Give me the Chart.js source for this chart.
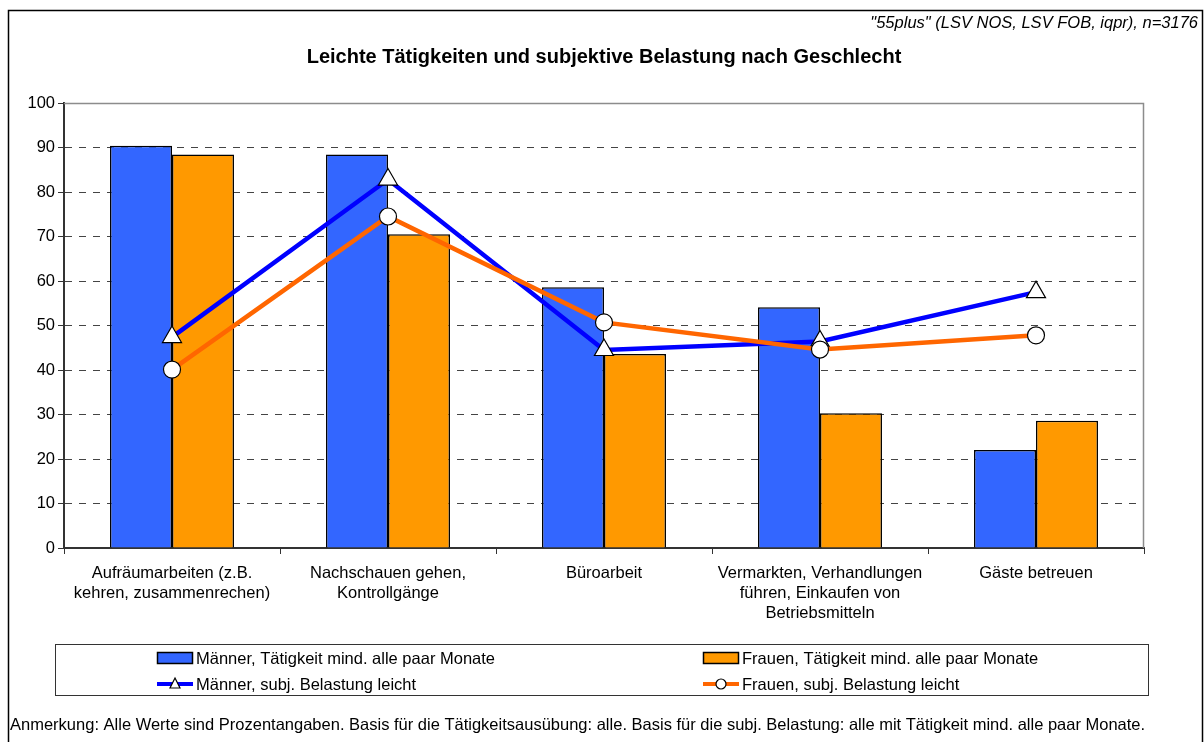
<!DOCTYPE html>
<html>
<head>
<meta charset="utf-8">
<script src="https://cdn.jsdelivr.net/npm/chart.js@4.4.1/dist/chart.umd.min.js"></script>
<style>
html, body { margin: 0; padding: 0; background: #fff; }
#wrap { width: 1204px; height: 742px; position: relative; }
</style>
</head>
<body>
<div id="wrap"><canvas id="chart"></canvas></div>
<script>
var categories = [
	['Aufräumarbeiten (z.B.', 'kehren, zusammenrechen)'],
	['Nachschauen gehen,', 'Kontrollgänge'],
	['Büroarbeit'],
	['Vermarkten, Verhandlungen', 'führen, Einkaufen von', 'Betriebsmitteln'],
	['Gäste betreuen']
];
var maennerTaetigkeit = [90.4, 88.4, 58.6, 54.1, 22.0];
var frauenTaetigkeit = [88.4, 70.5, 43.6, 30.3, 28.6];
var maennerBelastung = [47.4, 82.8, 44.5, 46.4, 57.5];
var frauenBelastung = [40.1, 74.5, 50.7, 44.6, 47.8];
var seriesNames = [
	'Männer, Tätigkeit mind. alle paar Monate',
	'Frauen, Tätigkeit mind. alle paar Monate',
	'Männer, subj. Belastung leicht',
	'Frauen, subj. Belastung leicht'
];
var yTicks = [0, 10, 20, 30, 40, 50, 60, 70, 80, 90, 100];

var FONT = '"Liberation Sans", Arial, sans-serif';

// frame, source, title, plot border, legend and footnote
var decorations = {
	id: 'decorations',
	beforeDraw: function(chart) {
		var c = chart.ctx;
		c.save();
		c.fillStyle = '#fff';
		c.fillRect(0, 0, chart.width, chart.height);
		c.restore();
	},
	afterDraw: function(chart) {
		var c = chart.ctx;
		var a = chart.chartArea;
		c.save();
		// outer frame
		c.strokeStyle = '#000';
		c.lineWidth = 1.5;
		c.strokeRect(8.5, 10.5, 1194, 760);

		// plot area border top/right
		c.strokeStyle = '#8c8c8c';
		c.lineWidth = 1.5;
		c.beginPath();
		c.moveTo(a.left, a.top + 0.5);
		c.lineTo(a.right - 0.5, a.top + 0.5);
		c.lineTo(a.right - 0.5, a.bottom);
		c.stroke();

		// source note
		c.fillStyle = '#000';
		c.font = 'italic 16.5px ' + FONT;
		c.textAlign = 'right';
		c.textBaseline = 'middle';
		c.fillText('"55plus" (LSV NOS, LSV FOB, iqpr), n=3176', 1198, 23);

		// title
		c.font = 'bold 20px ' + FONT;
		c.textAlign = 'center';
		c.fillText('Leichte Tätigkeiten und subjektive Belastung nach Geschlecht', 604, 57);

		// legend box
		c.strokeStyle = '#333';
		c.lineWidth = 1;
		c.strokeRect(55.5, 644.5, 1093, 51);
		var ds = chart.data.datasets;
		var cols = [157, 703];
		var rows = [658, 684];
		c.font = '16.5px ' + FONT;
		c.textAlign = 'left';
		for (var i = 0; i < 4; i++) {
			var x = cols[i % 2], y = rows[Math.floor(i / 2)];
			var d = ds[i];
			if (d.type === 'bar') {
				c.fillStyle = d.backgroundColor;
				c.fillRect(x, y - 6, 36, 12);
				c.strokeStyle = '#000';
				c.lineWidth = 1.5;
				c.strokeRect(x + 0.5, y - 5.5, 35, 11);
			} else {
				c.strokeStyle = d.borderColor;
				c.lineWidth = 4;
				c.beginPath();
				c.moveTo(x, y);
				c.lineTo(x + 36, y);
				c.stroke();
				c.fillStyle = '#fff';
				c.strokeStyle = '#000';
				c.lineWidth = 1.2;
				c.beginPath();
				if (d.pointStyle === 'triangle') {
					c.moveTo(x + 18, y - 6);
					c.lineTo(x + 23, y + 4);
					c.lineTo(x + 13, y + 4);
					c.closePath();
				} else {
					c.arc(x + 18, y, 5, 0, Math.PI * 2);
				}
				c.fill();
				c.stroke();
			}
			c.fillStyle = '#000';
			c.fillText(seriesNames[i], x + 39, y + 1);
		}

		// footnote
		c.font = '16.5px ' + FONT;
		c.fillText('Anmerkung: Alle Werte sind Prozentangaben. Basis für die Tätigkeitsausübung: alle. Basis für die subj. Belastung: alle mit Tätigkeit mind. alle paar Monate.', 10, 725);
		c.restore();
	}
};

var config = {
	type: 'bar',
	data: {
		labels: categories,
		datasets: [{
			type: 'bar',
			label: seriesNames[0],
			data: maennerTaetigkeit,
			backgroundColor: '#3366ff',
			borderColor: '#000',
			borderWidth: 1.5,
			categoryPercentage: 0.574,
			barPercentage: 1,
			order: 3
		}, {
			type: 'bar',
			label: seriesNames[1],
			data: frauenTaetigkeit,
			backgroundColor: '#ff9900',
			borderColor: '#000',
			borderWidth: 1.5,
			categoryPercentage: 0.574,
			barPercentage: 1,
			order: 3
		}, {
			type: 'line',
			label: seriesNames[2],
			data: maennerBelastung,
			borderColor: '#0000ff',
			borderWidth: 4.5,
			pointStyle: 'triangle',
			pointRadius: 11,
			pointBackgroundColor: '#fff',
			pointBorderColor: '#000',
			pointBorderWidth: 1.2,
			tension: 0,
			order: 2
		}, {
			type: 'line',
			label: seriesNames[3],
			data: frauenBelastung,
			borderColor: '#ff6600',
			borderWidth: 4.5,
			pointStyle: 'circle',
			pointRadius: 8.5,
			pointBackgroundColor: '#fff',
			pointBorderColor: '#000',
			pointBorderWidth: 1.2,
			tension: 0,
			order: 1
		}]
	},
	options: {
		responsive: false,
		animation: false,
		events: [],
		layout: {
			padding: { left: 8, right: 60, top: 103, bottom: 114 }
		},
		plugins: {
			legend: { display: false },
			title: { display: false },
			tooltip: { enabled: false }
		},
		scales: {
			x: {
				offset: true,
				grid: {
					offset: true,
					drawOnChartArea: false,
					drawTicks: true,
					tickLength: 6,
					color: '#333',
					lineWidth: 1
				},
				border: { display: true, color: '#333', width: 2 },
				ticks: {
					color: '#000',
					font: { family: FONT, size: 16.5, lineHeight: 1.2 },
					padding: 10,
					maxRotation: 0,
					autoSkip: false
				},
				afterFit: function(scale) { scale.height = 80; }
			},
			y: {
				min: 0,
				max: 100,
				afterBuildTicks: function(scale) {
					scale.ticks = yTicks.map(function(v) { return { value: v }; });
				},
				grid: {
					color: function(ctx) {
						return (ctx.tick && (ctx.tick.value === 0 || ctx.tick.value === 100)) ? 'rgba(0,0,0,0)' : '#444';
					},
					tickColor: '#333',
					tickLength: 6,
					lineWidth: 1,
					tickBorderDash: []
				},
				border: { display: true, color: '#333', width: 2, dash: [7, 7] },
				ticks: {
					color: '#000',
					font: { family: FONT, size: 16.5 },
					padding: 3
				},
				afterFit: function(scale) { scale.width = 56; }
			}
		}
	},
	plugins: [decorations]
};

var ctx = document.getElementById('chart').getContext('2d');
var canvas = document.getElementById('chart');
canvas.width = 1204;
canvas.height = 742;
window.myChart = new Chart(ctx, config);
</script>
</body>
</html>
